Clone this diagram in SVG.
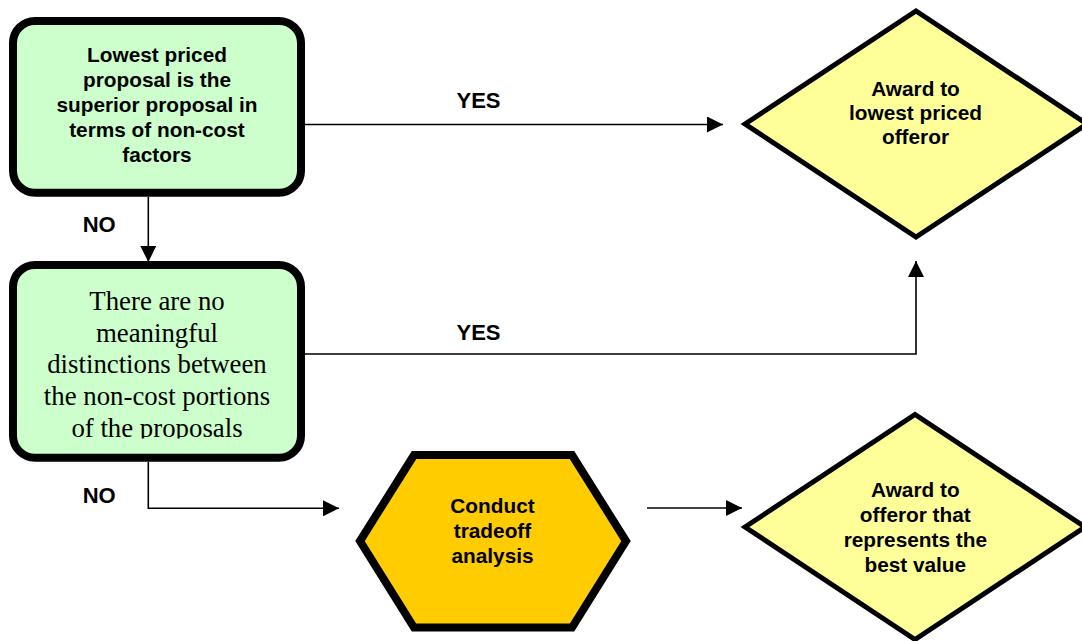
<svg xmlns="http://www.w3.org/2000/svg" width="1082" height="641" viewBox="0 0 1082 641">
<style>
.box{fill:#CCFFCC;stroke:#000;stroke-width:8}
.dia{fill:#FFFF99;stroke:#000;stroke-width:5;stroke-linejoin:miter}
.hex{fill:#FFCC00;stroke:#000;stroke-width:8;stroke-linejoin:miter}
.bt{font-family:"Liberation Sans",Arial,sans-serif;font-weight:bold;font-size:20.8px;fill:#000;text-anchor:middle}
.st{font-family:"Liberation Serif","Times New Roman",serif;font-size:26.8px;fill:#000;text-anchor:middle}
.lbl{font-family:"Liberation Sans",Arial,sans-serif;font-weight:bold;font-size:22px;fill:#000}
.con{fill:none;stroke:#000;stroke-width:1.6}
</style>
<defs>
<marker id="arr" markerUnits="userSpaceOnUse" markerWidth="16" markerHeight="16" viewBox="0 0 15 15" refX="15" refY="7.5" orient="auto">
<path d="M0,0 L15,7.5 L0,15 z" fill="#000"/>
</marker>
<clipPath id="clip2"><rect x="17" y="269" width="280" height="169.5"/></clipPath>
</defs>
<rect width="1082" height="641" fill="#fff"/>
<g id="connectors">
<path class="con" d="M148.3,197 L148.3,262" marker-end="url(#arr)"/>
<path class="con" d="M305,124.5 L723,124.5" marker-end="url(#arr)"/>
<path class="con" d="M305,354 L916,354 L916,261" marker-end="url(#arr)"/>
<path class="con" d="M148.3,462 L148.3,508.3 L339,508.3" marker-end="url(#arr)"/>
<path class="con" d="M647,508 L742,508" marker-end="url(#arr)"/>
<text class="lbl" x="82.7" y="231.7">NO</text>
<text class="lbl" x="82.7" y="503.3">NO</text>
<text class="lbl" x="456.5" y="108.3">YES</text>
<text class="lbl" x="456.5" y="340">YES</text>
</g>
<g id="node1">
<rect class="box" x="13" y="21" width="288" height="171.7" rx="22" ry="22"/>
<text class="bt" x="157" y="61.5">Lowest priced</text>
<text class="bt" x="157" y="86.5">proposal is the</text>
<text class="bt" x="157" y="111.5">superior proposal in</text>
<text class="bt" x="157" y="136.5">terms of non-cost</text>
<text class="bt" x="157" y="161.5">factors</text>
</g>
<g id="node2">
<rect class="box" x="13" y="265" width="288" height="192.7" rx="22" ry="22"/>
<g clip-path="url(#clip2)">
<text class="st" x="157" y="310">There are no</text>
<text class="st" x="157" y="341.7">meaningful</text>
<text class="st" x="157" y="373.3">distinctions between</text>
<text class="st" x="157" y="405">the non-cost portions</text>
<text class="st" x="157" y="436.7">of the proposals</text>
</g>
</g>
<g id="node3">
<polygon class="dia" points="745,124 916,11 1087,124 916,237"/>
<text class="bt" x="915.5" y="96">Award to</text>
<text class="bt" x="915.5" y="120">lowest priced</text>
<text class="bt" x="915.5" y="144">offeror</text>
</g>
<g id="node4">
<polygon class="hex" points="360,541 414,455 572,455 626,541 572,627.5 414,627.5"/>
<text class="bt" x="492.5" y="513">Conduct</text>
<text class="bt" x="492.5" y="538">tradeoff</text>
<text class="bt" x="492.5" y="563">analysis</text>
</g>
<g id="node5">
<polygon class="dia" points="745,527 915,414.5 1085,527 915,639.5"/>
<text class="bt" x="915.3" y="496.7">Award to</text>
<text class="bt" x="915.3" y="521.7">offeror that</text>
<text class="bt" x="915.3" y="546.7">represents the</text>
<text class="bt" x="915.3" y="571.7">best value</text>
</g>
</svg>
